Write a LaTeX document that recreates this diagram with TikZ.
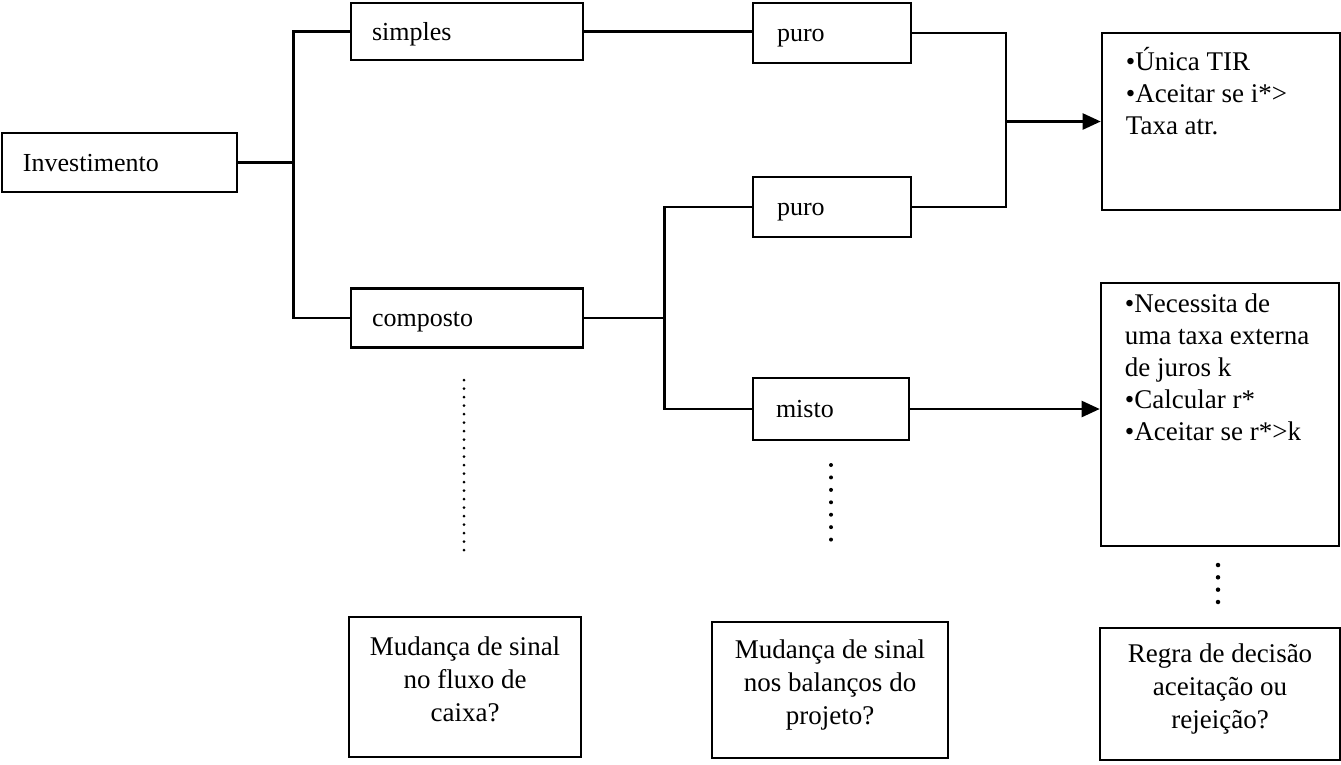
\documentclass[tikz,border=0pt]{standalone}
\usepackage{fontspec}
\setmainfont{Liberation Serif}
\usetikzlibrary{arrows.meta}
\begin{document}
\begin{tikzpicture}[x=1pt,y=-1pt,
  box/.style={draw, line width=2.6pt, rectangle, inner ysep=0pt, font=\fontsize{26}{32}\selectfont},
  lbox/.style n args={3}{box, minimum height=#1, text width=#2, inner xsep=#3, align=left, text height=17pt, text depth=0pt},
  cbox/.style n args={2}{box, minimum width=#1, minimum height=#2, inner xsep=0pt, align=center, text depth=16pt, font=\fontsize{27}{33}\selectfont},
  rbox/.style n args={2}{box, minimum width=#1, minimum height=#2},
  rtext/.style={anchor=north west, align=left, inner sep=0pt, font=\fontsize{27}{32}\selectfont},
  conn/.style={line width=2.4pt},
  arr/.style={conn, -{Triangle[length=18pt,width=16pt]}},
  dotsA/.style={line width=3pt, line cap=round, dash pattern=on 0pt off 8.5pt},
  dotsB/.style={line width=4pt, line cap=round, dash pattern=on 0pt off 12.43pt},
  dotsC/.style={line width=4.5pt, line cap=round, dash pattern=on 0pt off 12.33pt}
]
\useasboundingbox (0,0) rectangle (1341,764);

% left column
\node[lbox={59pt}{193pt}{21pt}] (inv) at (119.5,162.5) {Investimento};
\node[lbox={57pt}{190pt}{21pt}] (simp) at (467,31.5) {simples};
\node[lbox={59pt}{190pt}{21pt}] (comp) at (467,318) {composto};

% middle column
\node[lbox={60pt}{110pt}{24pt}] (puro1) at (832,33) {puro};
\node[lbox={60pt}{110pt}{24pt}] (puro2) at (832,207) {puro};
\node[lbox={62pt}{110pt}{23pt}] (misto) at (831,409) {misto};

% right column
\node[rbox={238pt}{177pt},
  label={[rtext, xshift=25pt, yshift=-15pt]north west:{•Única TIR\\•Aceitar se i*>\\Taxa atr.}}]
  (r1) at (1221,121.5) {};
\node[rbox={238pt}{263pt},
  label={[rtext, xshift=25pt, yshift=-12pt]north west:{•Necessita de\\uma taxa externa\\de juros k\\•Calcular r*\\•Aceitar se r*>k}}]
  (r2) at (1220,414.5) {};

% bottom row
\node[cbox={232pt}{140pt}] (b1) at (465,687) {Mudança de sinal\\no fluxo de\\caixa?};
\node[cbox={236pt}{136pt}] (b2) at (830,690) {Mudança de sinal\\nos balanços do\\projeto?};
\node[cbox={240pt}{132pt}] (b3) at (1220,694) {Regra de decisão\\aceitação ou\\rejeição?};

% connectors
\draw[conn] (inv.east) -- ++(55,0) coordinate (j1);
\draw[conn] (simp.west) -| (j1) |- (comp.west);
\draw[conn] (simp.east) -- (simp.east -| puro1.west);
\draw[conn] (comp.east) -- ++(80,0) coordinate (j2);
\draw[conn] (puro2.west) -| (j2) |- (misto.west);
\path (r1.west) ++(-95,0) coordinate (j3);
\draw[conn] (puro1.east) -| (j3) |- (puro2.east);
\draw[arr] (j3) -- (r1.west);
\draw[arr] (misto.east) -- (misto.east -| r2.west);

% dotted links
\coordinate (d1a) at (464,380); \coordinate (d1b) at (464,550);
\coordinate (d2a) at (831,465); \coordinate (d2b) at (831,552);
\coordinate (d3a) at (1218,565); \coordinate (d3b) at (1218,602);
\draw[dotsA] (d1a) -- (d1b);
\draw[dotsB] (d2a) -- (d2b);
\draw[dotsC] (d3a) -- (d3b);
\end{tikzpicture}
\end{document}
